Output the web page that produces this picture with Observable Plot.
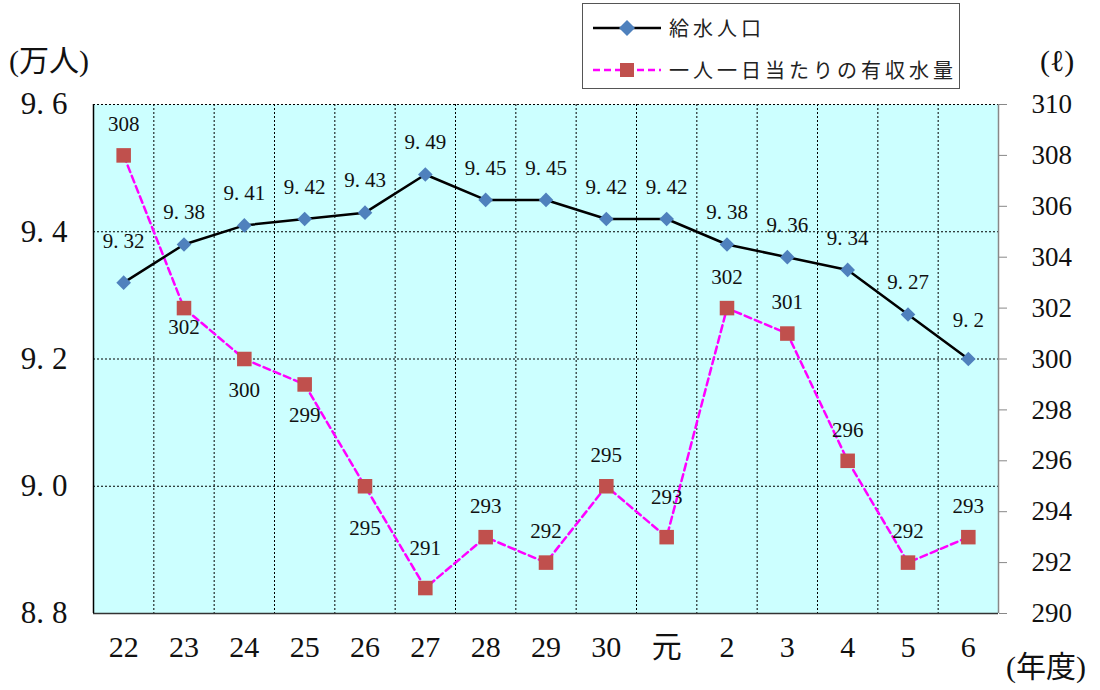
<!DOCTYPE html>
<html><head><meta charset="utf-8">
<script src="https://cdn.jsdelivr.net/npm/d3@7"></script>
<script src="https://cdn.jsdelivr.net/npm/@observablehq/plot@0.6"></script>
<style>
body{margin:0;background:#fff;}
#wrap{position:relative;width:1100px;height:690px;}
#chart svg{display:block;}
#chart svg text, #chart svg g{font-family:"Liberation Serif","Times New Roman","DejaVu Serif",serif !important;font-variant:normal !important;}
.unit{position:absolute;font-family:"Liberation Serif","Noto Sans CJK JP",serif;font-size:30px;color:#111;line-height:1;white-space:nowrap;}
.legend{position:absolute;left:582px;top:3px;width:376px;height:84px;border:1px solid #555;background:#fff;}
.legend .row{position:absolute;left:0;height:30px;width:376px;}
.legend .row svg{position:absolute;left:8px;top:0;}
.legend .row span{position:absolute;left:86px;top:2px;font-family:"Noto Sans CJK JP",sans-serif;font-size:20px;color:#222;letter-spacing:4px;line-height:26px;white-space:nowrap;}
</style>
</head><body>
<div id="wrap">
  <div id="chart"></div>
  <div class="unit" style="left:9px;top:46px;">(万人)</div>
  <div class="unit" style="left:1040px;top:46px;">(ℓ)</div>
  <div class="unit" style="left:1006px;top:652px;">(年度)</div>
  <div class="legend">
    <div class="row" style="top:9px;">
      <svg width="72" height="30"><line x1="2" y1="15" x2="70" y2="15" stroke="#000" stroke-width="2.5"/><path d="M36 7 L44 15 L36 23 L28 15 Z" fill="#4f81bd"/></svg>
      <span id="lg1"></span>
    </div>
    <div class="row" style="top:51px;">
      <svg width="72" height="30"><line x1="2" y1="15" x2="70" y2="15" stroke="#ff00ff" stroke-width="2.5" stroke-dasharray="7,4"/><rect x="29" y="8" width="14" height="14" fill="#c0504d"/></svg>
      <span id="lg2"></span>
    </div>
  </div>
</div>
<script>
// ---- data ----
const categories = ["22","23","24","25","26","27","28","29","30","元","2","3","4","5","6"];
const population = [9.32, 9.38, 9.41, 9.42, 9.43, 9.49, 9.45, 9.45, 9.42, 9.42, 9.38, 9.36, 9.34, 9.27, 9.2];
const waterPerCapita = [308, 302, 300, 299, 295, 291, 293, 292, 295, 293, 302, 301, 296, 292, 293];
const leftTicks = [8.8, 9.0, 9.2, 9.4, 9.6];
const rightTicks = [290, 292, 294, 296, 298, 300, 302, 304, 306, 308, 310];
const seriesNames = ["給水人口", "一人一日当たりの有収水量"];

document.getElementById("lg1").textContent = seriesNames[0];
document.getElementById("lg2").textContent = seriesNames[1];

const toLeft = d3.scaleLinear([290, 310], [8.8, 9.6]);
const rows = categories.map((c, i) => ({i, cat: c, pop: population[i], water: waterPerCapita[i]}));

function labels(data, yFn, textFn, dyFn, opts) {
  return [...d3.group(data, dyFn)].map(([dy, g]) =>
    Plot.text(g, {x: "i", y: yFn, text: textFn, dy, ...opts}));
}

const blueDy = d => d.i === 0 ? -41 : d.i === 14 ? -39 : -32;
const redDy = d => d.i === 1 ? 19 : (d.i === 2 || d.i === 3) ? 31 : d.i === 4 ? 42 : (d.i === 5 || d.i === 9) ? -40 : -31;

const chart = Plot.plot({
  width: 1100, height: 690,
  marginLeft: 93, marginRight: 102, marginTop: 104, marginBottom: 77,
  style: {background: "transparent", color: "#111"},
  x: {type: "linear", domain: [-0.5, 14.5]},
  y: {domain: [8.8, 9.6]},
  marks: [
    Plot.frame({fill: "#ccffff", stroke: null}),
    Plot.ruleY(leftTicks.slice(1), {stroke: "#000", strokeWidth: 1, strokeDasharray: "2,2"}),
    Plot.ruleX(categories.slice(1).map((_, i) => i + 0.5), {stroke: "#000", strokeWidth: 1, strokeDasharray: "2,2"}),
    Plot.ruleY([8.8], {stroke: "#333", strokeWidth: 1.5}),
    Plot.ruleX([-0.5], {stroke: "#000", strokeWidth: 1.5}),
    Plot.ruleX([14.5], {stroke: "#888", strokeWidth: 1.5}),
    Plot.line(rows, {x: "i", y: d => toLeft(d.water), stroke: "#ff00ff", strokeWidth: 2.5, strokeDasharray: "7,4"}),
    Plot.line(rows, {x: "i", y: "pop", stroke: "#000", strokeWidth: 2.5}),
    Plot.dot(rows, {x: "i", y: "pop", symbol: "diamond2", fill: "#4f81bd", r: 6.6, stroke: null}),
    Plot.dot(rows, {x: "i", y: d => toLeft(d.water), symbol: "square", fill: "#c0504d", r: 8.2, stroke: null}),
    ...labels(rows, "pop", d => String(d.pop), blueDy, {fontSize: 21, fill: "#111"}),
    ...labels(rows, d => toLeft(d.water), d => String(d.water), redDy, {fontSize: 21, fill: "#111"}),
    Plot.axisY({anchor: "left", ticks: leftTicks, tickSize: 0, tickPadding: 26, fontSize: 31, label: null, tickFormat: d => d.toFixed(1)}),
    Plot.axisY({anchor: "right", ticks: rightTicks.map(t => toLeft(t)), tickSize: 8, tickPadding: 25, stroke: "#888", fill: "#111", fontSize: 27, label: null, tickFormat: d => String(Math.round(toLeft.invert(d)))}),
    Plot.axisX({anchor: "bottom", ticks: d3.range(categories.length), tickSize: 0, tickPadding: 22, fontSize: 30, label: null, tickFormat: i => categories[i]})
  ]
});
document.getElementById("chart").append(chart);

// widen the gap after the decimal point (wide Mincho period) with a tspan offset
function widenPeriod(node, gap) {
  const t = node.textContent;
  const k = t.indexOf(".");
  if (k < 0) return;
  node.textContent = "";
  const ns = "http://www.w3.org/2000/svg";
  const a = document.createElementNS(ns, "tspan"); a.textContent = t.slice(0, k + 1);
  const b = document.createElementNS(ns, "tspan"); b.textContent = t.slice(k + 1); b.setAttribute("dx", gap);
  node.append(a, b);
}
const svg = d3.select(chart);
svg.selectAll('g[aria-label="y-axis tick label"]').each(function() {
  if (this.getAttribute("text-anchor") === "end") d3.select(this).selectAll("text").each(function() { widenPeriod(this, 8); });
});
svg.selectAll('g[aria-label="text"] text').each(function() { widenPeriod(this, 5); });
svg.selectAll('g[aria-label="x-axis tick label"] text').each(function() {
  if (this.textContent === "元") this.style.setProperty("font-family", '"Noto Sans CJK JP"', "important");
});
</script>
</body></html>
